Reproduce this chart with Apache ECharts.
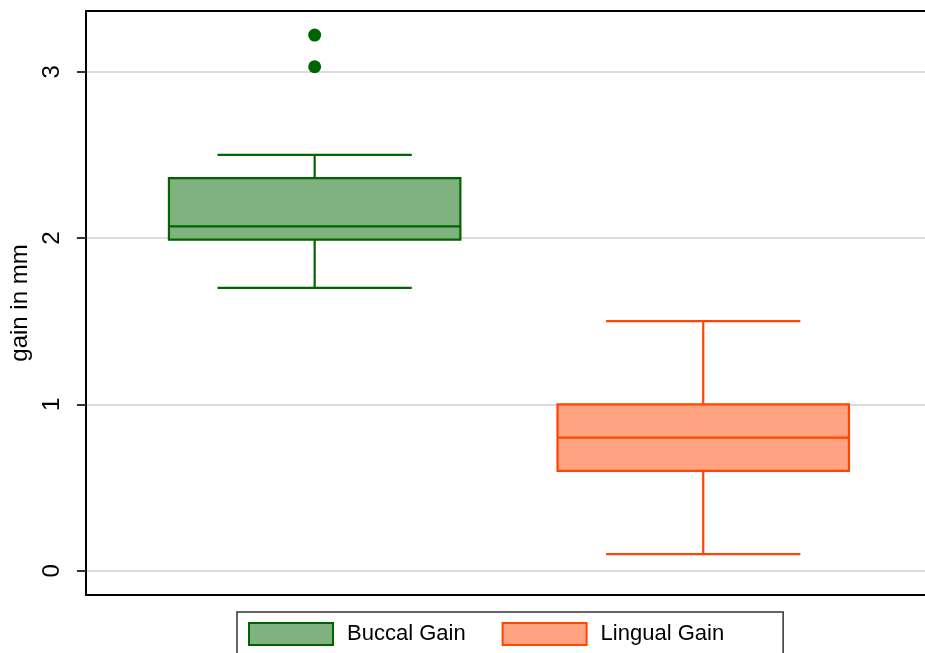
<!DOCTYPE html>
<html>
<head>
<meta charset="utf-8">
<script src="https://cdn.jsdelivr.net/npm/echarts@6/dist/echarts.min.js"></script>
<style>
html,body{margin:0;padding:0;background:#fff;}
#chart{width:925px;height:653px;}
</style>
</head>
<body>
<div id="chart"></div>
<script>
// ---- data ----
const seriesNames = ['Buccal Gain', 'Lingual Gain'];
const positions = [1, 2];
// [low whisker, Q1, median, Q3, high whisker]
const buccalStats = [1.70, 1.99, 2.07, 2.36, 2.50];
const lingualStats = [0.10, 0.60, 0.80, 1.00, 1.50];
const buccalOutliers = [3.22, 3.03];
const lingualOutliers = [];
const yTicks = [0, 1, 2, 3];
const yTitle = 'gain in mm';

// ---- styles ----
const fills = ['#80B280', '#FFA280'];
const strokes = ['#006400', '#FF4500'];
const BOX_HALF = 0.375;
const CAP_HALF = 0.25;

function boxRender(params, api) {
  const x = api.value(0);
  const lo = api.coord([x, api.value(1)]);
  const q1 = api.coord([x, api.value(2)]);
  const md = api.coord([x, api.value(3)]);
  const q3 = api.coord([x, api.value(4)]);
  const hi = api.coord([x, api.value(5)]);
  const bl = api.coord([x - BOX_HALF, 0])[0];
  const br = api.coord([x + BOX_HALF, 0])[0];
  const cl = api.coord([x - CAP_HALF, 0])[0];
  const cr = api.coord([x + CAP_HALF, 0])[0];
  const cx = lo[0];
  const idx = params.seriesIndex;
  const ls = {stroke: strokes[idx], lineWidth: 2.2, fill: null};
  return {
    type: 'group',
    children: [
      {type: 'line', shape: {x1: cx, y1: hi[1], x2: cx, y2: q3[1]}, style: ls},
      {type: 'line', shape: {x1: cx, y1: q1[1], x2: cx, y2: lo[1]}, style: ls},
      {type: 'line', shape: {x1: cl, y1: hi[1], x2: cr, y2: hi[1]}, style: ls},
      {type: 'line', shape: {x1: cl, y1: lo[1], x2: cr, y2: lo[1]}, style: ls},
      {type: 'rect', shape: {x: bl, y: q3[1], width: br - bl, height: q1[1] - q3[1]},
        style: {fill: fills[idx], stroke: strokes[idx], lineWidth: 2.2}},
      {type: 'line', shape: {x1: bl, y1: md[1], x2: br, y2: md[1]}, style: ls}
    ]
  };
}

const chart = echarts.init(document.getElementById('chart'), null, {renderer: 'canvas'});
const axisFont = 'Liberation Sans, Arial';
const hiddenX = {
  type: 'value', min: 0.4113, max: 2.5707,
  axisTick: {show: false}, axisLabel: {show: false}, splitLine: {show: false}
};
const option = {
  backgroundColor: '#fff',
  animation: false,
  grid: {left: 85, top: 11, right: 0, bottom: 58},
  xAxis: [
    Object.assign({}, hiddenX, {position: 'bottom', axisLine: {show: true, onZero: false, lineStyle: {color: '#000', width: 2}}}),
    Object.assign({}, hiddenX, {position: 'top', axisLine: {show: true, onZero: false, lineStyle: {color: '#000', width: 2}}})
  ],
  yAxis: {
    type: 'value', min: -0.146, max: 3.365,
    name: yTitle, nameLocation: 'middle', nameGap: 46, nameRotate: 90,
    nameTextStyle: {fontFamily: axisFont, fontSize: 24, color: '#000'},
    axisLine: {show: true, onZero: false, lineStyle: {color: '#000', width: 2}},
    axisTick: {show: true, length: 9, customValues: yTicks, lineStyle: {color: '#333', width: 2}},
    axisLabel: {show: true, customValues: yTicks, rotate: 90, margin: 22, fontFamily: axisFont, fontSize: 24, color: '#000'},
    splitLine: {show: true, lineStyle: {color: '#DCDCDC', width: 2}}
  },
  legend: {
    left: 237, top: 612,
    orient: 'horizontal',
    itemWidth: 84, itemHeight: 22, itemGap: 36,
    padding: [10, 59, 10, 11],
    borderColor: '#333', borderWidth: 1.5,
    textStyle: {fontFamily: axisFont, fontSize: 22, color: '#000', padding: [0, 0, 0, 9]},
    data: seriesNames.map((n, i) => ({name: n, icon: 'rect', itemStyle: {color: fills[i], borderColor: strokes[i], borderWidth: 2}}))
  },
  series: [
    {
      name: seriesNames[0], type: 'custom', renderItem: boxRender,
      itemStyle: {color: fills[0], borderColor: strokes[0]},
      encode: {x: 0, y: [1, 2, 3, 4, 5]},
      data: [[positions[0]].concat(buccalStats)], z: 3
    },
    {
      name: seriesNames[1], type: 'custom', renderItem: boxRender,
      itemStyle: {color: fills[1], borderColor: strokes[1]},
      encode: {x: 0, y: [1, 2, 3, 4, 5]},
      data: [[positions[1]].concat(lingualStats)], z: 3
    },
    {
      name: 'outliers', type: 'scatter', symbol: 'circle', symbolSize: 13,
      itemStyle: {color: strokes[0], opacity: 1}, z: 4,
      data: buccalOutliers.map(v => [positions[0], v]).concat(lingualOutliers.map(v => [positions[1], v]))
    }
  ]
};
chart.setOption(option);
</script>
</body>
</html>
